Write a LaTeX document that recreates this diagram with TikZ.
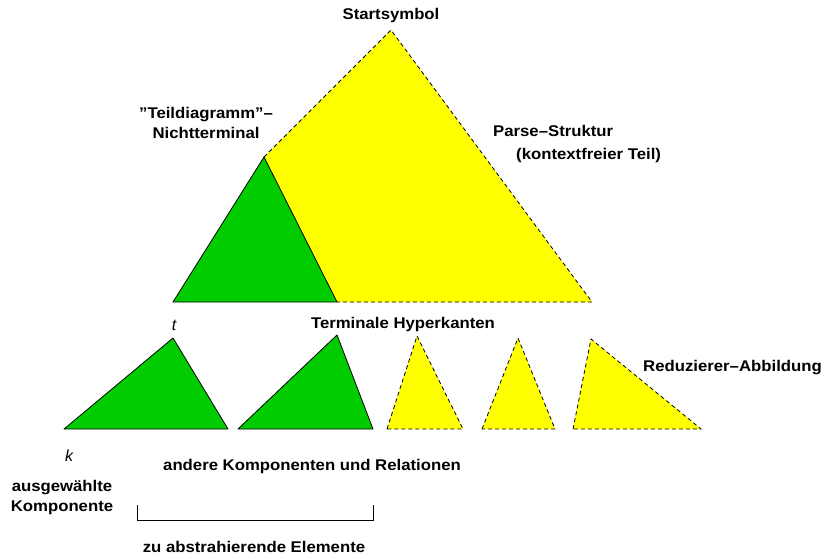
\documentclass[tikz,border=0pt]{standalone}
\usepackage{fontspec}
\setmainfont{Liberation Sans}[Ligatures=ResetAll]
\usepackage{graphicx}
\definecolor{treegreen}{RGB}{0,204,0}
\definecolor{treeyellow}{RGB}{255,255,0}
\newcommand{\wide}[1]{\scalebox{1.08}[1]{#1}}
\begin{document}
\begin{tikzpicture}[x=1pt,y=-1pt,
  lbl/.style={font=\fontsize{15.5}{18}\selectfont\bfseries, inner sep=0pt},
  var/.style={font=\fontsize{16}{18}\selectfont\itshape, inner sep=0pt},
  solidedge/.style={draw=black, line width=0.8pt, line join=round},
  dashedge/.style={draw=black, line width=0.8pt, dash pattern=on 4pt off 3pt},
  greenpart/.style={fill=treegreen},
  yellowpart/.style={fill=treeyellow}]
\useasboundingbox (0,0) rectangle (827,558);

% main parse tree
\coordinate (top) at (391,30);
\coordinate (nt) at (264,157);
\coordinate (bl) at (173,302);
\coordinate (bm) at (337,302);
\coordinate (br) at (592,302);
\fill[yellowpart] (top) -- (br) -- (bm) -- (nt) -- cycle;
\path[greenpart, solidedge] (nt) -- (bm) -- (bl) -- cycle;
\draw[dashedge] (nt) -- (top) -- (br) -- (bm);

% terminal hyperedges, first two green
\coordinate (a1) at (64,429);  \coordinate (a2) at (173,338); \coordinate (a3) at (228,429);
\coordinate (b1) at (238,429); \coordinate (b2) at (337,335); \coordinate (b3) at (373,429);
\path[greenpart, solidedge] (a1) -- (a2) -- (a3) -- cycle;
\path[greenpart, solidedge] (b1) -- (b2) -- (b3) -- cycle;

% reducer images, yellow and dashed
\coordinate (c1) at (387,429); \coordinate (c2) at (417,336); \coordinate (c3) at (463,429);
\coordinate (d1) at (482,429); \coordinate (d2) at (518,338); \coordinate (d3) at (555,429);
\coordinate (e1) at (573,429); \coordinate (e2) at (591,339); \coordinate (e3) at (701,429);
\path[yellowpart, dashedge] (c1) -- (c2) -- (c3) -- cycle;
\path[yellowpart, dashedge] (d1) -- (d2) -- (d3) -- cycle;
\path[yellowpart, dashedge] (e1) -- (e2) -- (e3) -- cycle;

% bracket under the elements to abstract
\coordinate (k1) at (137,505);
\coordinate (k2) at (373,505);
\draw[line width=0.8pt] (k1) -- ++(0,15) -| (k2);

% labels
\node[lbl] (start) at (391,15) {\wide{Startsymbol}};
\node[lbl] (td1) at (206,115) {\wide{\symbol{"22}Teildiagramm\symbol{"22}–}};
\node[lbl] (td2) at (206,133) {\wide{Nichtterminal}};
\node[lbl, anchor=west] (ps1) at (493,131) {\wide{Parse–Struktur}};
\node[lbl, anchor=west] (ps2) at (516,155) {\wide{(kontextfreier Teil)}};
\node[var] (tlab) at (174,325) {t};
\node[lbl] (term) at (403,324) {\wide{Terminale Hyperkanten}};
\node[lbl, anchor=east] (red) at (822,368) {\wide{Reduzierer–Abbildung}};
\node[var] (klab) at (69,456) {k};
\node[lbl] (other) at (312,466) {\wide{andere Komponenten und Relationen}};
\node[lbl] (sel1) at (62,488) {\wide{ausgewählte}};
\node[lbl] (sel2) at (62,508) {\wide{Komponente}};
\node[lbl] (abs) at (254,547) {\wide{zu abstrahierende Elemente}};
\end{tikzpicture}
\end{document}
